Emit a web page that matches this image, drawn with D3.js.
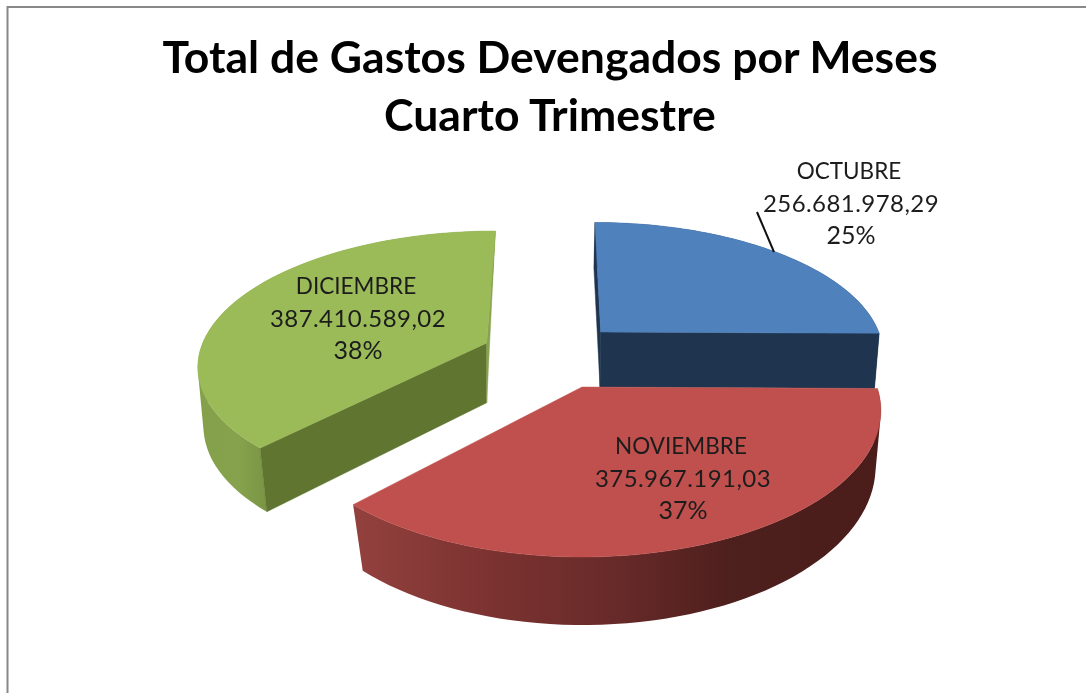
<!DOCTYPE html>
<html><head><meta charset="utf-8">
<script src="https://cdn.jsdelivr.net/npm/d3@7"></script>
<style>html,body{margin:0;padding:0;background:#fff}svg{display:block;filter:blur(.45px)}</style></head>
<body><svg id="c" width="1086" height="693"></svg>
<script>
const titleLines = ["Total de Gastos Devengados por Meses", "Cuarto Trimestre"];
const months = ["OCTUBRE", "NOVIEMBRE", "DICIEMBRE"];
const amounts = [256681978.29, 375967191.03, 387410589.02];
const topColors = ["#4f81bd", "#c0504d", "#9bbb59"];
const cutColors = ["#1f344f", null, "#5f7530"];

// Perspective camera for each exploded slice: x=(aX+sZ)/(1+kZ), y=-bZ/(1+kZ)
const cameras = [
  {top:{ox:600.7,oy:332,a:278,b:126,s:-6.6,k:.15}, bot:{ox:600,oy:387,a:274,b:137,s:-7,k:.15}},
  {top:{ox:582,oy:387,a:295,b:142.8,s:0,k:.16}, bot:{ox:583,oy:445,a:290,b:155.9,s:0,k:.134}},
  {top:{ox:486.7,oy:343,a:284,b:128.7,s:10,k:.149}, bot:{ox:486.7,oy:402.7,a:279,b:133.6,s:6.6,k:.149}}
];
const labelPos = [{x:851,y:179},{x:683,y:454},{x:358,y:294}];
const lineSizes = [22.5, 24, 25];
const lineSpacing = [0, .45, 0];
const lineShift = [-2, 0, 0];

const svg = d3.select("#c");
const defs = svg.append("defs");
const redGrad = defs.append("linearGradient").attr("id","redSide").attr("gradientUnits","userSpaceOnUse")
  .attr("x1",353).attr("x2",881).attr("y1",0).attr("y2",0);
[[0,"#93413e"],[.25,"#7c3331"],[.5,"#672a29"],[.72,"#4d1f1d"],[1,"#4a1c1a"]].forEach(s=>redGrad.append("stop").attr("offset",s[0]).attr("stop-color",s[1]));
const greenGrad = defs.append("linearGradient").attr("id","greenSide").attr("gradientUnits","userSpaceOnUse")
  .attr("x1",197).attr("x2",267).attr("y1",0).attr("y2",0);
[[0,"#84a04a"],[.6,"#86a24c"],[1,"#7a9444"]].forEach(s=>greenGrad.append("stop").attr("offset",s[0]).attr("stop-color",s[1]));
const sideFill = ["#1f344f","url(#redSide)","url(#greenSide)"];

// frame
svg.append("path").attr("d","M7.5,693V7H1086").attr("fill","none").attr("stroke","#888").attr("stroke-width",2);

const pie = d3.pie().sort(null).startAngle(0).endAngle(2*Math.PI).value(d=>d);
const arcs = pie(amounts);

function project(c,theta,r){
  const X=r*Math.sin(theta), Z=r*Math.cos(theta), w=1+c.k*Z;
  return [c.ox+(c.a*X+c.s*Z)/w, c.oy-c.b*Z/w];
}
const line = d3.line();
function arcPts(c,a0,a1){
  return d3.range(0,61).map(i=>project(c,a0+(a1-a0)*i/60,1));
}
function drawSlice(i){
  const d=arcs[i], cam=cameras[i], g=svg.append("g");
  const a0=d.startAngle, a1=d.endAngle;
  const poly=(pts,fill)=>g.append("path").attr("d",line(pts)+"Z").attr("fill",fill).attr("stroke",fill).attr("stroke-width",.5);
  // outer wall: one path of same-wound quads, so no seams between them
  const tp=arcPts(cam.top,a0,a1), bt=arcPts(cam.bot,a0,a1);
  const wall=d3.range(60).map(n=>{
    const q=[tp[n],tp[n+1],bt[n+1],bt[n]];
    return line(d3.polygonArea(q)<0?q.reverse():q)+"Z";
  }).join("");
  g.append("path").attr("d",wall).attr("fill",sideFill[i]);
  // radial cut faces
  if(cutColors[i]) [a0,a1].forEach((a,j)=>{
    const col=(i===2&&j===1)?"#88a350":cutColors[i];
    poly([project(cam.top,a,1),project(cam.top,a,0),project(cam.bot,a,0),project(cam.bot,a,1)],col);
  });
  // top face
  poly([project(cam.top,a0,0)].concat(tp),topColors[i]);
}
[2,0,1].forEach(drawSlice);

// title
svg.append("g").selectAll("text").data(titleLines).join("text")
  .attr("x",550).attr("y",(d,i)=>73+i*58).attr("text-anchor","middle")
  .attr("font-family","Lato").attr("font-weight",700).attr("font-size",44.5).attr("fill","#000")
  .text(d=>d);

// leader
const p=d3.path(); p.moveTo(757,212); p.lineTo(774,252);
svg.append("path").attr("d",p.toString()).attr("stroke","#111").attr("stroke-width",2).attr("fill","none");

// labels
const es=d3.formatLocale({decimal:",",thousands:".",grouping:[3]});
const fmt=es.format(",.2f");
const total=d3.sum(amounts);
months.forEach((m,i)=>{
  const lines=[m,fmt(amounts[i]),Math.round(amounts[i]/total*100)+"%"];
  svg.append("g").selectAll("text").data(lines).join("text")
    .attr("x",(d,j)=>labelPos[i].x+lineShift[j]).attr("y",(d,j)=>labelPos[i].y+j*32.5).attr("text-anchor","middle")
    .attr("font-family","Lato").attr("font-size",(d,j)=>lineSizes[j]).attr("letter-spacing",(d,j)=>lineSpacing[j]).attr("fill","#1c1c1c").text(d=>d);
});
</script></body></html>
